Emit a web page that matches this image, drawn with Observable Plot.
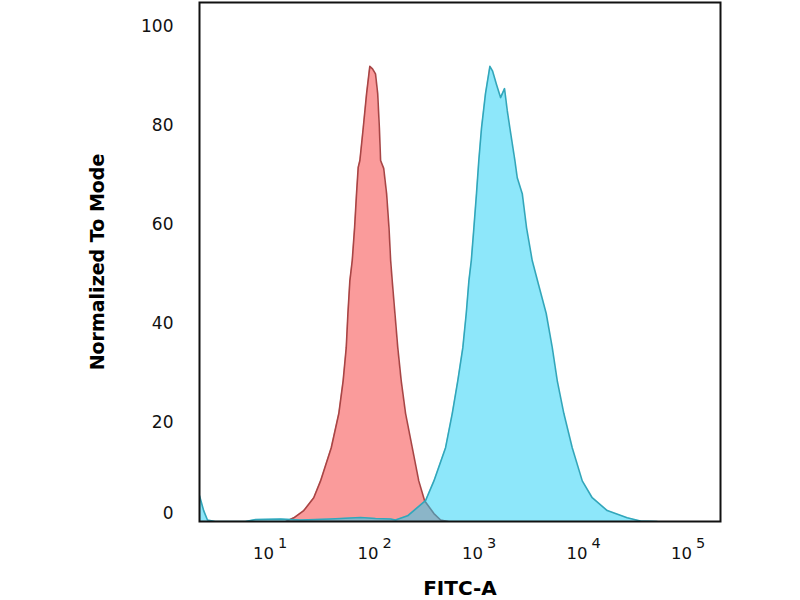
<!DOCTYPE html>
<html><head><meta charset="utf-8">
<script src="https://cdn.jsdelivr.net/npm/d3@7"></script>
<script src="https://cdn.jsdelivr.net/npm/@observablehq/plot@0.6"></script>
<style>body{margin:0;background:#fff}</style>
</head><body><div id="chart"></div>
<script>
// Isotype control (red) – FITC intensity and % of mode
const redX = [14, 16.7, 20.8, 25.9, 30.1, 38.1, 45.0, 49.5, 53.0, 55.0, 57.4, 60.5, 63.7, 66.5, 69.0, 71.6, 77.1, 83.0, 89.1, 94.6, 101, 106, 110, 113, 121, 129, 136, 141, 146, 155, 165, 178, 196, 227, 262, 298, 366, 424, 500];
const redY = [0, 0.75, 2.2, 4.8, 8.2, 14.9, 21.8, 28.4, 35.1, 42.0, 48.6, 52.7, 59.3, 66.2, 71.5, 72.9, 79.5, 86.4, 91.9, 91.4, 90.4, 86.4, 79.5, 72.9, 71.3, 66.2, 59.3, 52.7, 48.6, 42.0, 35.1, 28.4, 21.8, 14.9, 8.2, 4.2, 1.6, 0.3, 0];
// Stained sample (blue)
const blueX = [2.09, 2.29, 2.49, 2.95, 5.75, 7.18, 12.5, 19.4, 37.5, 72.6, 101, 141, 157, 205, 304, 366, 473, 548, 619, 692, 746, 791, 834, 883, 935, 984, 1045, 1140, 1256, 1330, 1455, 1589, 1734, 1841, 1950, 2178, 2296, 2564, 2818, 3192, 3673, 4345, 4966, 5546, 6412, 7709, 9616, 11970, 16670, 25880, 34670, 50000];
const blueY = [5.2, 2.2, 0.3, 0, 0, 0.4, 0.5, 0.3, 0.5, 0.8, 0.6, 0.5, 0.3, 1.15, 4.2, 8.2, 14.9, 21.8, 28.4, 35.1, 42.0, 48.6, 52.7, 59.3, 66.2, 72.9, 79.5, 86.4, 91.9, 91.0, 88.2, 85.6, 87.4, 83.0, 79.5, 72.9, 69.4, 66.2, 59.3, 52.7, 47.8, 42.0, 35.1, 28.4, 21.8, 14.9, 8.2, 4.8, 2.2, 0.75, 0.1, 0];
const yTicks = [0, 20, 40, 60, 80, 100];
const xExponents = [1, 2, 3, 4, 5];
const yTitle = "Normalized To Mode";
const xTitle = "FITC-A";

const red = redX.map((x, i) => ({x, y: redY[i]}));
const blue = blueX.map((x, i) => ({x, y: blueY[i]}));

const chart = Plot.plot({
  width: 800, height: 600,
  marginLeft: 199, marginRight: 80, marginTop: 2, marginBottom: 79,
  style: {fontFamily: "DejaVu Sans", background: "white"},
  x: {type: "log", domain: [Math.pow(10, 0.32), Math.pow(10, 5.306)], axis: null},
  y: {domain: [0, 104.8], axis: null},
  marks: [
    Plot.areaY(red, {x: "x", y: "y", fill: "#fa9b9b", clip: true}),
    Plot.lineY(red, {x: "x", y: "y", stroke: "#a84545", strokeWidth: 1.6, clip: true}),
    Plot.areaY(blue, {x: "x", y: "y", fill: "#1bd0f5", fillOpacity: 0.5, clip: true}),
    Plot.lineY(blue, {x: "x", y: "y", stroke: "#32a6ba", strokeWidth: 1.6, clip: true}),
    Plot.frame({stroke: "#111", strokeWidth: 2}),
    Plot.text(yTicks.filter(d => d > 0), {y: d => d, text: d => String(d), frameAnchor: "left", dx: -26, textAnchor: "end", fontSize: 17, fill: "#111"}),
    Plot.text(yTicks.filter(d => d === 0), {y: d => d, text: d => String(d), frameAnchor: "left", dx: -26, dy: -8, textAnchor: "end", fontSize: 17, fill: "#111"}),
    Plot.text(xExponents, {x: d => Math.pow(10, d), text: () => "10", frameAnchor: "bottom", dy: 37, dx: -7, fontSize: 16.5, fill: "#111"}),
    Plot.text(xExponents, {x: d => Math.pow(10, d), text: d => String(d), frameAnchor: "bottom", dy: 26.5, dx: 12, fontSize: 14.5, fill: "#111"}),
    Plot.text([yTitle], {text: d => d, frameAnchor: "left", dx: -102, rotate: -90, textAnchor: "middle", fontSize: 19, fontWeight: "bold", fill: "#000", letterSpacing: "0.2px"}),
    Plot.text([xTitle], {text: d => d, frameAnchor: "bottom", dy: 67, lineAnchor: "middle", fontSize: 20, fontWeight: "bold", fill: "#000"})
  ]
});
document.getElementById("chart").appendChild(chart);
</script>
</body></html>
